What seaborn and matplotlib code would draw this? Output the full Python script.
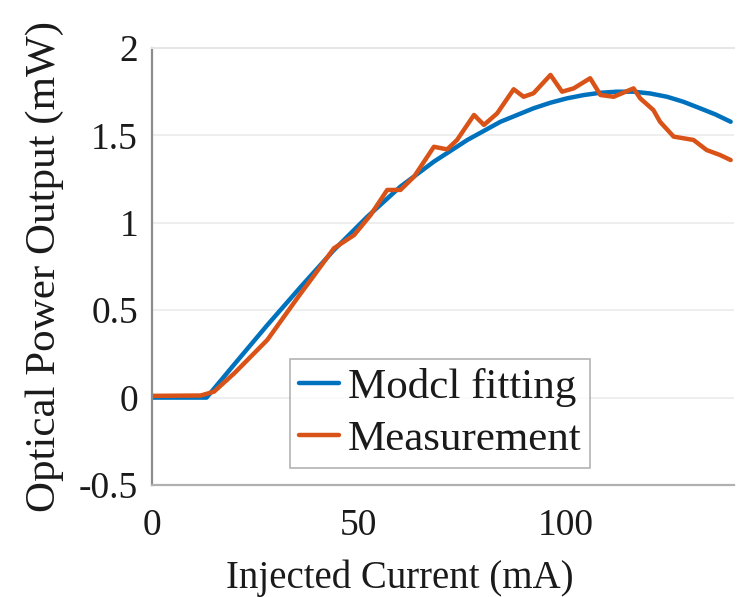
import matplotlib
matplotlib.use("Agg")
import matplotlib.pyplot as plt
import seaborn as sns
import pandas as pd

# ---- data ----
model_current = [0, 13.2, 19.9, 27.9, 36.0, 44.0, 52.1, 60.1, 68.2, 76.3, 84.3,
                 92.3, 96.4, 100.4, 104.5, 108.5, 112.5, 116.5, 120.5, 124.6,
                 128.6, 132.6, 136.3, 140.0]
model_power = [0, 0, 0.19, 0.415, 0.634, 0.844, 1.035, 1.207, 1.350, 1.474, 1.578,
               1.655, 1.687, 1.712, 1.731, 1.744, 1.750, 1.750, 1.740, 1.721,
               1.692, 1.655, 1.620, 1.578]

meas_current = [0, 11.8, 15.0, 19.9, 27.9, 36.0, 38.4, 44.0, 48.9, 52.9, 56.9,
                60.1, 63.4, 68.2, 71.4, 73.8, 77.9, 80.3, 83.5, 87.5, 89.9, 92.3,
                96.4, 99.2, 102.0, 106.0, 108.5, 111.7, 116.5, 118.1, 121.3, 122.9,
                126.2, 131.0, 134.2, 137.4, 140.0]
meas_power = [0.01, 0.012, 0.034, 0.139, 0.33, 0.597, 0.673, 0.854, 0.930, 1.045,
              1.188, 1.188, 1.264, 1.435, 1.420, 1.474, 1.617, 1.56, 1.626, 1.764,
              1.721, 1.741, 1.846, 1.750, 1.769, 1.827, 1.731, 1.721, 1.769, 1.712,
              1.645, 1.578, 1.493, 1.474, 1.416, 1.388, 1.359]

series_names = ["Modcl fitting", "Measurement"]
x_ticks = [0, 50, 100]
y_ticks = [-0.5, 0, 0.5, 1, 1.5, 2]
y_tick_labels = ["-0.5", "0", "0.5", "1", "1.5", "2"]

df = pd.concat([
    pd.DataFrame({"I": model_current, "P": model_power, "series": series_names[0]}),
    pd.DataFrame({"I": meas_current, "P": meas_power, "series": series_names[1]}),
], ignore_index=True)

sns.set_style("white")
plt.rcParams["font.family"] = ["Liberation Serif", "DejaVu Serif"]
plt.rcParams["text.color"] = "#1a1a1a"
plt.rcParams["axes.labelcolor"] = "#1a1a1a"
plt.rcParams["xtick.color"] = "#1a1a1a"
plt.rcParams["ytick.color"] = "#1a1a1a"

fig = plt.figure(figsize=(7.38, 5.97), dpi=100)
ax = fig.add_axes([152 / 738, 1 - 485 / 597, (734 - 152) / 738, (485 - 48) / 597])

sns.lineplot(data=df, x="I", y="P", hue="series", ax=ax,
             palette=["#0072BD", "#D95319"], linewidth=3.2, sort=False,
             estimator=None)

ax.set_xlim(0, 140.8)
ax.set_ylim(-0.5, 2)
ax.set_xticks(x_ticks)
ax.set_xticklabels([str(t) for t in x_ticks])
ax.set_yticks(y_ticks)
ax.set_yticklabels(y_tick_labels)
ax.tick_params(axis="both", length=0, labelsize=27)
ax.tick_params(axis="x", pad=17)
ax.tick_params(axis="y", pad=10)

ax.grid(axis="y", color="#ebebeb", linewidth=1.2)
ax.set_axisbelow(True)
ax.spines["left"].set_color("#8c8c8c")
ax.spines["left"].set_linewidth(1.6)
ax.spines["bottom"].set_color("#b0b0b0")
ax.spines["bottom"].set_linewidth(1.6)
ax.spines["top"].set_color("#e6e6e6")
ax.spines["top"].set_linewidth(1.4)
ax.spines["right"].set_visible(False)

ax.set_xlabel("Injected Current (mA)", fontsize=28)
ax.xaxis.set_label_coords(0.426, -0.17)
ax.set_ylabel("Optical Power Output (mW)", fontsize=31, labelpad=11)

leg = ax.legend(loc="upper left", bbox_to_anchor=(0.237, 0.288), fontsize=31,
                frameon=True, fancybox=False, edgecolor="#a0a0a0",
                handlelength=0.95, handletextpad=0.2, borderpad=0.2,
                labelspacing=0.31, borderaxespad=0)
leg.get_frame().set_linewidth(1.2)
for h in leg.get_lines():
    h.set_linewidth(3.2)

fig.savefig("out.png", dpi=100)
